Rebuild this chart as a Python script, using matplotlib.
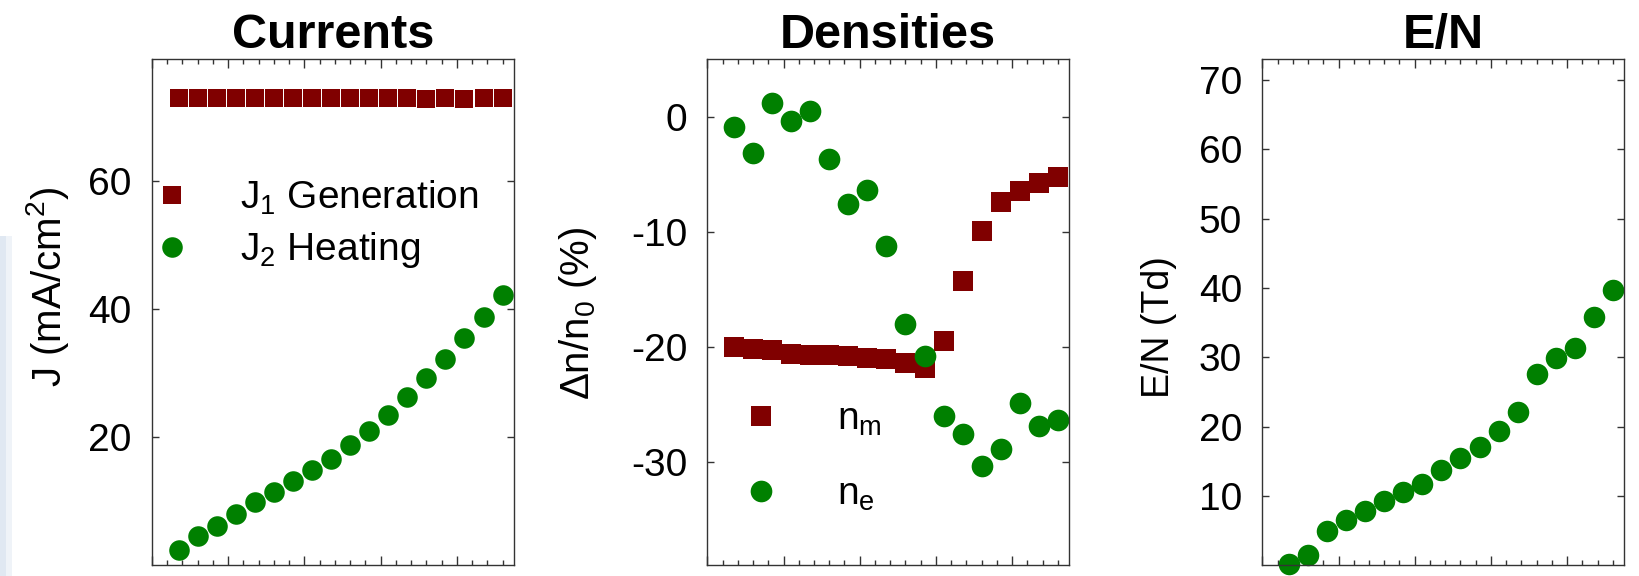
import numpy as np
import matplotlib.pyplot as plt
from matplotlib.ticker import MultipleLocator
from matplotlib.patches import Rectangle

plt.rcParams['font.family'] = ['Liberation Sans', 'DejaVu Sans']
plt.rcParams['mathtext.fontset'] = 'custom'
plt.rcParams['mathtext.rm'] = 'Liberation Sans'
plt.rcParams['mathtext.it'] = 'Liberation Sans'
plt.rcParams['axes.unicode_minus'] = False

# x positions of the 18 measurement points (arbitrary axis, no labels)
x = [0.35, 0.60, 0.85, 1.10, 1.35, 1.60, 1.85, 2.10, 2.35,
     2.60, 2.85, 3.10, 3.35, 3.60, 3.85, 4.10, 4.35, 4.60]

# Currents (mA/cm^2)
j1_generation = [72.9, 72.9, 72.9, 72.9, 72.9, 72.9, 72.9, 72.9, 72.9,
                 72.9, 72.9, 72.9, 72.9, 72.8, 72.9, 72.8, 72.9, 72.9]
j2_heating = [2.4, 4.5, 6.2, 8.0, 9.8, 11.5, 13.2, 14.8, 16.6,
              18.7, 21.0, 23.45, 26.3, 29.2, 32.2, 35.5, 38.7, 42.1]

# Densities (%)
n_m = [-20.0, -20.2, -20.3, -20.6, -20.7, -20.7, -20.8, -21.0, -21.05,
       -21.4, -21.85, -19.55, -14.25, -9.94, -7.4, -6.45, -5.8, -5.24]
n_e = [-0.9, -3.2, 1.2, -0.35, 0.45, -3.7, -7.6, -6.35, -11.25,
       -18.0, -20.8, -26.0, -27.6, -30.4, -28.85, -24.9, -26.9, -26.4]

# E/N (Td)
e_over_n = [0.2, 1.5, 4.9, 6.6, 7.8, 9.2, 10.5, 11.75, 13.7,
            15.4, 17.1, 19.3, 22.1, 27.6, 29.95, 31.4, 35.8, 39.7]

red = '#800000'
green = '#008000'
W, H = 1639, 576

fig = plt.figure(figsize=(W / 100, H / 100), dpi=100)

# faint bluish strip at the far left (slide background)
fig.patches.append(Rectangle((0, 0), 6 / W, 340 / H, transform=fig.transFigure,
                             facecolor='#e0e8f2', edgecolor='none', zorder=-1))
fig.patches.append(Rectangle((6 / W, 0), 6 / W, 340 / H, transform=fig.transFigure,
                             facecolor='#eff3f8', edgecolor='none', zorder=-1))


def make_axes(left_px):
    ax = fig.add_axes([left_px / W, (H - 565.3) / H, 362 / W, 506.3 / H])
    ax.set_xlim(0, 4.75)
    ax.xaxis.set_major_locator(MultipleLocator(1))
    ax.xaxis.set_minor_locator(MultipleLocator(0.2))
    ax.tick_params(axis='x', which='major', direction='in', length=6.3, width=1,
                   top=True, bottom=True, labelbottom=False, color='#333333')
    ax.tick_params(axis='x', which='minor', direction='in', length=3.8, width=1,
                   top=True, bottom=True, color='#333333')
    ax.tick_params(axis='y', which='major', direction='in', length=4.8, width=1,
                   left=True, right=True, labelsize=28, pad=14.5, color='#333333')
    for s in ax.spines.values():
        s.set_color('#333333')
        s.set_linewidth(1.0)
    return ax


################################  Currents  ################################
ax1 = make_axes(152)
ax1.plot(x, j1_generation, 's', color=red, ms=13, mew=0, clip_on=False,
         label='J$_1$ Generation')
ax1.plot(x, j2_heating, 'o', color=green, ms=14.8, mew=0, clip_on=False,
         label='J$_2$ Heating')
ax1.set_ylim(0, 79)
ax1.set_yticks([20, 40, 60])
ax1.set_title('Currents', fontsize=35, fontweight='bold', pad=8)
ax1.set_ylabel('J (mA/cm$^2$)', fontsize=29)
ax1.yaxis.set_label_coords(-0.225, 0.55)
ax1.legend(loc='center left', bbox_to_anchor=(0.0025, 0.673), frameon=False,
           fontsize=28, handlelength=1.0, handletextpad=1.24, labelspacing=0.34,
           borderpad=0, borderaxespad=0)

################################  Densities  ###############################
ax2 = make_axes(707.3)
ax2.plot(x, n_m, 's', color=red, ms=14.4, mew=0, clip_on=False, label='n$_m$')
ax2.plot(x, n_e, 'o', color=green, ms=15.6, mew=0, clip_on=False, label='n$_e$')
ax2.set_ylim(-39, 5)
ax2.set_yticks([-30, -20, -10, 0])
ax2.set_title('Densities', fontsize=35, fontweight='bold', pad=8)
ax2.set_ylabel('Δn/n$_0$ (%)', fontsize=29)
ax2.yaxis.set_label_coords(-0.30, 0.497)
ax2.legend(loc='center left', bbox_to_anchor=(0.0948, 0.214), frameon=False,
           fontsize=28, handlelength=1.0, handletextpad=1.45, labelspacing=0.99,
           borderpad=0, borderaxespad=0)

###################################  E/N  ##################################
ax3 = make_axes(1262.3)
ax3.plot(x, e_over_n, 'o', color=green, ms=15.5, mew=0, clip_on=False)
ax3.set_ylim(0, 73)
ax3.set_yticks([10, 20, 30, 40, 50, 60, 70])
ax3.set_title('E/N', fontsize=35, fontweight='bold', pad=8)
ax3.set_ylabel('E/N (Td)', fontsize=27)
ax3.yaxis.set_label_coords(-0.235, 0.47)

fig.savefig('out.png', dpi=100)
